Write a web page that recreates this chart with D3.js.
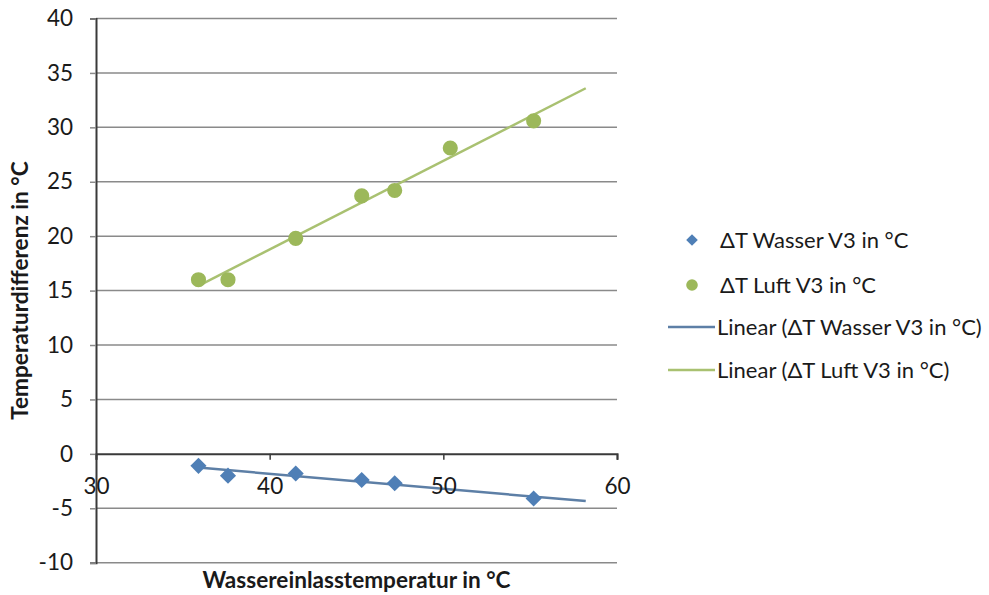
<!DOCTYPE html>
<html>
<head>
<meta charset="utf-8">
<script src="https://cdn.jsdelivr.net/npm/d3@7"></script>
<style>
  body { margin: 0; background: #fff; }
  svg { display: block; }
  text { font-family: Lato, "Open Sans", sans-serif; fill: #1a1a1a; }
</style>
</head>
<body>
<svg id="chart" width="989" height="595"></svg>
<script>
// Water inlet temperature (x) and the two measured temperature differences
// (no water reading was taken at the 50.4 °C run)
const inletTemps = [35.9, 37.6, 41.5, 45.3, 47.2, 50.4, 55.2];
const deltaWater = [-1.1, -2.0, -1.8, -2.4, -2.7, null, -4.1];
const deltaAir   = [16.0, 16.0, 19.8, 23.7, 24.2, 28.1, 30.6];

const xTicks = [30, 40, 50, 60];
const yTicks = [-10, -5, 0, 5, 10, 15, 20, 25, 30, 35, 40];

const seriesNames = ["ΔT Wasser V3 in °C", "ΔT Luft V3 in °C"];
const trendNames  = ["Linear (ΔT Wasser V3 in °C)", "Linear (ΔT Luft V3 in °C)"];
const xTitle = "Wassereinlasstemperatur in °C";
const yTitle = "Temperaturdifferenz in °C";

// trendlines are extended this many x units past the last point
const trendForward = 3;

const colors = {
  water: "#4f7fb6",
  air: "#9cb85a",
  waterTrend: "#5d7fa6",
  airTrend: "#a9c171",
  grid: "#8a8a8a",
  axis: "#3a3a3a"
};

const svg = d3.select("#chart");

const x = d3.scaleLinear().domain([30, 60]).range([96, 617]);
const y = d3.scaleLinear().domain([-10, 40]).range([562.7, 18.5]);

const plain = d => String(d);   // keeps the ASCII hyphen for negatives

// horizontal gridlines
svg.append("g")
  .selectAll("line")
  .data(yTicks.filter(t => t !== 0))
  .join("line")
  .attr("x1", x.range()[0]).attr("x2", x.range()[1])
  .attr("y1", d => y(d)).attr("y2", d => y(d))
  .attr("stroke", colors.grid)
  .attr("stroke-width", 1.5);

// y axis
const yAxis = svg.append("g")
  .attr("transform", `translate(${x(30)},0)`)
  .call(d3.axisLeft(y).tickValues(yTicks).tickSize(6).tickPadding(17).tickFormat(plain));
yAxis.select(".domain").attr("stroke", colors.axis).attr("stroke-width", 2);
yAxis.selectAll(".tick line").attr("stroke", colors.grid).attr("stroke-width", 1.5);
yAxis.selectAll(".tick text")
  .style("font-size", "22.5px")
  .attr("fill", "#1a1a1a");

// least-squares fit over the available pairs
function linearFit(xs, ys) {
  const pts = xs.map((v, i) => [v, ys[i]]).filter(p => p[1] != null);
  const mx = d3.mean(pts, p => p[0]), my = d3.mean(pts, p => p[1]);
  let sxy = 0, sxx = 0;
  pts.forEach(([a, b]) => { sxy += (a - mx) * (b - my); sxx += (a - mx) * (a - mx); });
  const slope = sxy / sxx;
  return { slope, intercept: my - slope * mx, xMin: d3.min(pts, p => p[0]), xMax: d3.max(pts, p => p[0]) };
}

const series = [
  { key: "water", values: deltaWater, color: colors.water, trendColor: colors.waterTrend, shape: "diamond" },
  { key: "air",   values: deltaAir,   color: colors.air,   trendColor: colors.airTrend,   shape: "circle" }
];

// trendlines
series.forEach(s => {
  const fit = linearFit(inletTemps, s.values);
  const x0 = fit.xMin, x1 = fit.xMax + trendForward;
  svg.append("line")
    .attr("x1", x(x0)).attr("y1", y(fit.slope * x0 + fit.intercept))
    .attr("x2", x(x1)).attr("y2", y(fit.slope * x1 + fit.intercept))
    .attr("stroke", s.trendColor)
    .attr("stroke-width", 2.5);
});

const diamond = d3.symbol().type(d3.symbolSquare);
const circle = d3.symbol().type(d3.symbolCircle);

// markers
series.forEach(s => {
  const pts = inletTemps.map((t, i) => [t, s.values[i]]).filter(p => p[1] != null);
  svg.append("g")
    .selectAll("path")
    .data(pts)
    .join("path")
    .attr("d", s.shape === "diamond" ? diamond.size(130)() : circle.size(180)())
    .attr("transform", d => `translate(${x(d[0])},${y(d[1])})` + (s.shape === "diamond" ? " rotate(45)" : ""))
    .attr("fill", s.color);
});

// x axis crossing at y = 0, labels drawn above the series
const xAxis = svg.append("g")
  .attr("transform", `translate(0,${y(0)})`)
  .call(d3.axisBottom(x).tickValues(xTicks).tickSize(6).tickPadding(18).tickFormat(plain));
xAxis.select(".domain").attr("stroke", colors.axis).attr("stroke-width", 2);
xAxis.selectAll(".tick line").attr("stroke", colors.axis).attr("stroke-width", 1.5);
xAxis.selectAll(".tick text")
  .style("font-size", "22.5px")
  .attr("fill", "#1a1a1a");

// axis titles, centred on the plot area
const plotMidX = (x.range()[0] + x.range()[1]) / 2;
const plotMidY = (y.range()[0] + y.range()[1]) / 2;

svg.append("text")
  .attr("x", plotMidX)
  .attr("y", 588)
  .attr("text-anchor", "middle")
  .style("font-size", "22.6px")
  .style("font-weight", "bold")
  .text(xTitle);

svg.append("text")
  .attr("transform", `translate(28,${plotMidY}) rotate(-90)`)
  .attr("text-anchor", "middle")
  .style("font-size", "22.6px")
  .style("font-weight", "bold")
  .text(yTitle);

// legend
const legend = svg.append("g");
const markerRows = [
  { name: seriesNames[0], color: colors.water, shape: "diamond", cy: 240 },
  { name: seriesNames[1], color: colors.air, shape: "circle", cy: 285 }
];
markerRows.forEach(r => {
  legend.append("path")
    .attr("d", r.shape === "diamond" ? diamond.size(68)() : circle.size(106)())
    .attr("transform", `translate(692,${r.cy})` + (r.shape === "diamond" ? " rotate(45)" : ""))
    .attr("fill", r.color);
  legend.append("text")
    .attr("x", 720).attr("y", r.cy)
    .attr("dy", "0.35em")
    .style("font-size", "22px")
    .text(r.name);
});
const lineRows = [
  { name: trendNames[0], color: colors.waterTrend, cy: 327 },
  { name: trendNames[1], color: colors.airTrend, cy: 370 }
];
lineRows.forEach(r => {
  legend.append("line")
    .attr("x1", 668).attr("x2", 715)
    .attr("y1", r.cy).attr("y2", r.cy)
    .attr("stroke", r.color)
    .attr("stroke-width", 2.5);
  legend.append("text")
    .attr("x", 717).attr("y", r.cy)
    .attr("dy", "0.35em")
    .style("font-size", "22px")
    .text(r.name);
});
</script>
</body>
</html>
